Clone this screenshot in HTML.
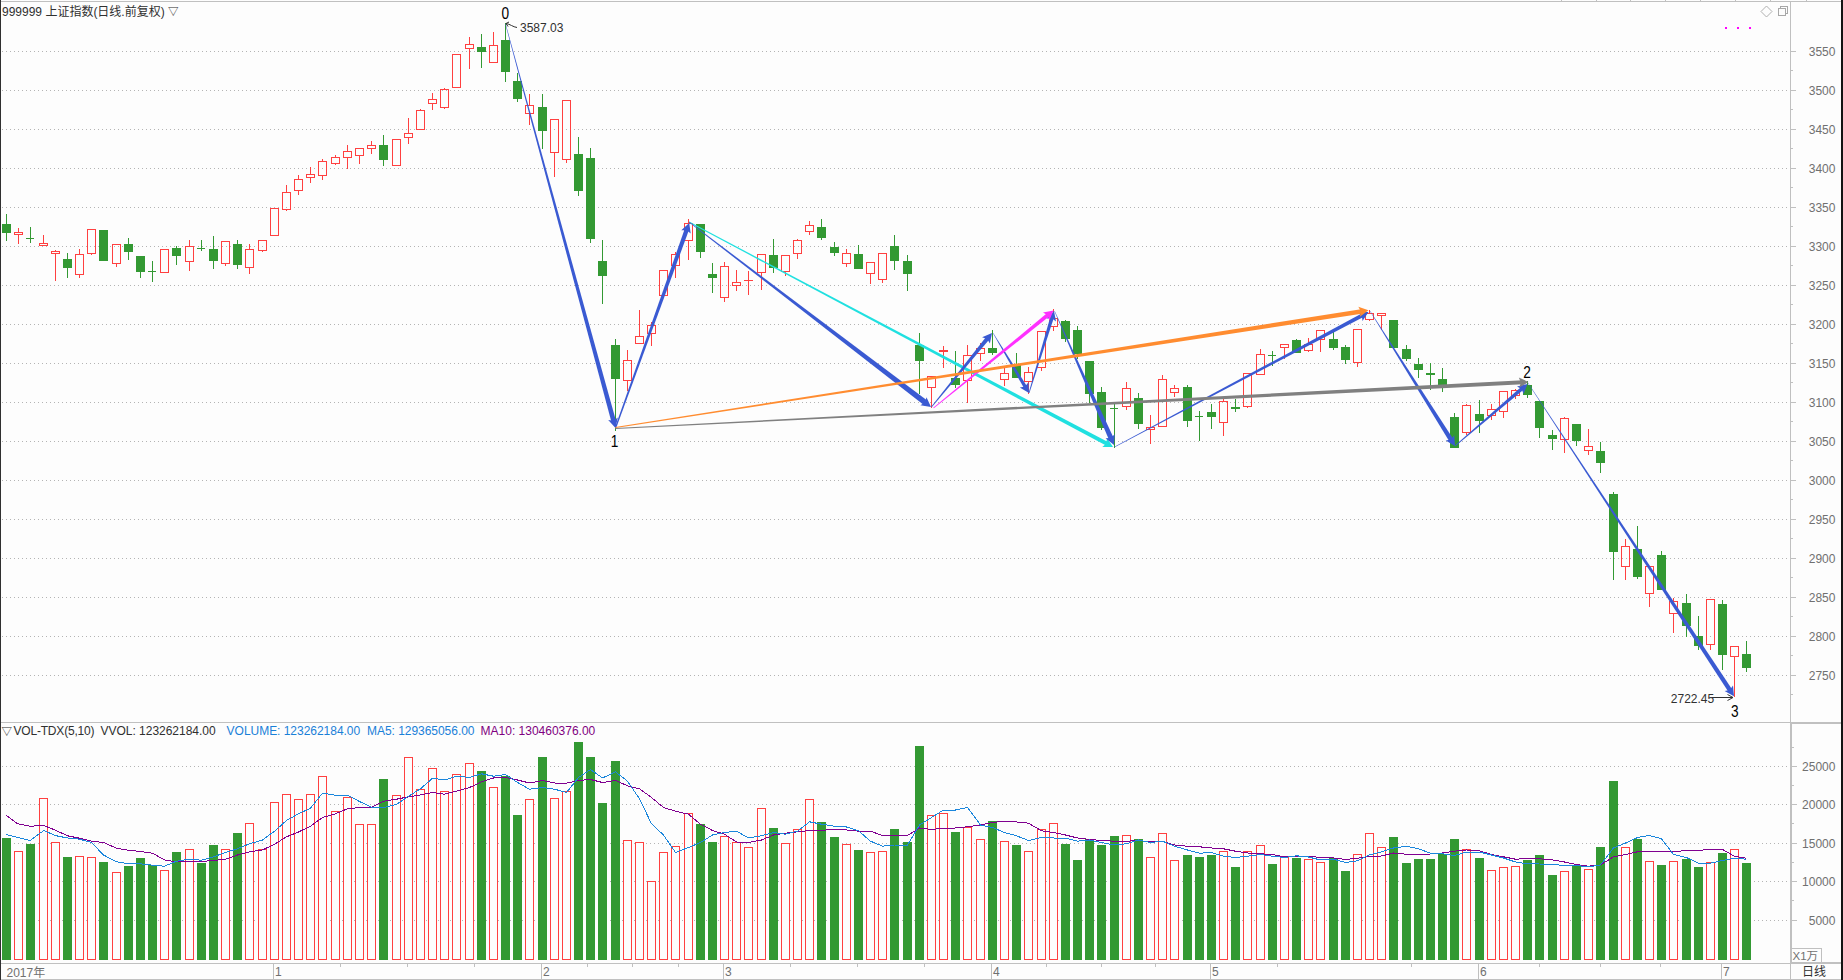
<!DOCTYPE html>
<html><head><meta charset="utf-8"><title>999999 上证指数</title>
<style>html,body{margin:0;padding:0;background:#fdfdfd;width:1843px;height:980px;overflow:hidden}</style>
</head><body>
<svg width="1843" height="980" viewBox="0 0 1843 980" style="position:absolute;left:0;top:0;display:block">
<rect width="1843" height="980" fill="#fdfdfd"/>
<g shape-rendering="crispEdges" stroke="#b4b4b4" stroke-width="1" stroke-dasharray="1 3">
<line x1="2" x2="1788" y1="51.5" y2="51.5"/>
<line x1="2" x2="1788" y1="90.5" y2="90.5"/>
<line x1="2" x2="1788" y1="129.5" y2="129.5"/>
<line x1="2" x2="1788" y1="168.5" y2="168.5"/>
<line x1="2" x2="1788" y1="207.5" y2="207.5"/>
<line x1="2" x2="1788" y1="246.5" y2="246.5"/>
<line x1="2" x2="1788" y1="285.5" y2="285.5"/>
<line x1="2" x2="1788" y1="324.5" y2="324.5"/>
<line x1="2" x2="1788" y1="363.5" y2="363.5"/>
<line x1="2" x2="1788" y1="402.5" y2="402.5"/>
<line x1="2" x2="1788" y1="441.5" y2="441.5"/>
<line x1="2" x2="1788" y1="480.5" y2="480.5"/>
<line x1="2" x2="1788" y1="519.5" y2="519.5"/>
<line x1="2" x2="1788" y1="558.5" y2="558.5"/>
<line x1="2" x2="1788" y1="597.5" y2="597.5"/>
<line x1="2" x2="1788" y1="636.5" y2="636.5"/>
<line x1="2" x2="1788" y1="675.5" y2="675.5"/>
<line x1="2" x2="1788" y1="766.5" y2="766.5"/>
<line x1="2" x2="1788" y1="804.5" y2="804.5"/>
<line x1="2" x2="1788" y1="843.5" y2="843.5"/>
<line x1="2" x2="1788" y1="881.5" y2="881.5"/>
<line x1="2" x2="1788" y1="920.5" y2="920.5"/>
</g>
<g shape-rendering="crispEdges">
<rect x="6" y="214" width="1" height="27" fill="#339933"/>
<rect x="2" y="224" width="9" height="9" fill="#339933"/>
<rect x="18" y="228" width="1" height="4" fill="#ff4040"/>
<rect x="18" y="235" width="1" height="9" fill="#ff4040"/>
<rect x="14.5" y="232.5" width="8" height="2" fill="none" stroke="#ff4040" stroke-width="1"/>
<rect x="30" y="227" width="1" height="16" fill="#339933"/>
<rect x="26" y="238" width="8" height="1" fill="#339933"/>
<rect x="43" y="235" width="1" height="8" fill="#ff4040"/>
<rect x="39.5" y="243.5" width="8" height="2" fill="none" stroke="#ff4040" stroke-width="1"/>
<rect x="55" y="250" width="1" height="1" fill="#ff4040"/>
<rect x="55" y="254" width="1" height="27" fill="#ff4040"/>
<rect x="51.5" y="251.5" width="8" height="2" fill="none" stroke="#ff4040" stroke-width="1"/>
<rect x="67" y="253" width="1" height="25" fill="#339933"/>
<rect x="63" y="259" width="9" height="9" fill="#339933"/>
<rect x="79" y="249" width="1" height="5" fill="#ff4040"/>
<rect x="79" y="275" width="1" height="3" fill="#ff4040"/>
<rect x="75.5" y="254.5" width="8" height="20" fill="none" stroke="#ff4040" stroke-width="1"/>
<rect x="91" y="254" width="1" height="1" fill="#ff4040"/>
<rect x="87.5" y="229.5" width="8" height="24" fill="none" stroke="#ff4040" stroke-width="1"/>
<rect x="103" y="230" width="1" height="31" fill="#339933"/>
<rect x="99" y="230" width="9" height="31" fill="#339933"/>
<rect x="116" y="264" width="1" height="3" fill="#ff4040"/>
<rect x="112.5" y="244.5" width="8" height="19" fill="none" stroke="#ff4040" stroke-width="1"/>
<rect x="128" y="238" width="1" height="22" fill="#339933"/>
<rect x="124" y="244" width="9" height="8" fill="#339933"/>
<rect x="140" y="256" width="1" height="22" fill="#339933"/>
<rect x="136" y="256" width="9" height="16" fill="#339933"/>
<rect x="152" y="261" width="1" height="21" fill="#339933"/>
<rect x="148" y="271" width="8" height="1" fill="#339933"/>
<rect x="160.5" y="249.5" width="8" height="23" fill="none" stroke="#ff4040" stroke-width="1"/>
<rect x="176" y="246" width="1" height="19" fill="#339933"/>
<rect x="172" y="248" width="9" height="8" fill="#339933"/>
<rect x="189" y="240" width="1" height="6" fill="#ff4040"/>
<rect x="189" y="262" width="1" height="9" fill="#ff4040"/>
<rect x="185.5" y="246.5" width="8" height="15" fill="none" stroke="#ff4040" stroke-width="1"/>
<rect x="201" y="240" width="1" height="11" fill="#339933"/>
<rect x="197" y="248" width="8" height="1" fill="#339933"/>
<rect x="213" y="236" width="1" height="33" fill="#339933"/>
<rect x="209" y="249" width="9" height="12" fill="#339933"/>
<rect x="225" y="264" width="1" height="2" fill="#ff4040"/>
<rect x="221.5" y="241.5" width="8" height="22" fill="none" stroke="#ff4040" stroke-width="1"/>
<rect x="237" y="240" width="1" height="29" fill="#339933"/>
<rect x="233" y="244" width="9" height="21" fill="#339933"/>
<rect x="249" y="244" width="1" height="5" fill="#ff4040"/>
<rect x="249" y="268" width="1" height="6" fill="#ff4040"/>
<rect x="245.5" y="249.5" width="8" height="18" fill="none" stroke="#ff4040" stroke-width="1"/>
<rect x="262" y="251" width="1" height="1" fill="#ff4040"/>
<rect x="258.5" y="240.5" width="8" height="10" fill="none" stroke="#ff4040" stroke-width="1"/>
<rect x="270.5" y="208.5" width="8" height="27" fill="none" stroke="#ff4040" stroke-width="1"/>
<rect x="286" y="185" width="1" height="7" fill="#ff4040"/>
<rect x="286" y="210" width="1" height="1" fill="#ff4040"/>
<rect x="282.5" y="192.5" width="8" height="17" fill="none" stroke="#ff4040" stroke-width="1"/>
<rect x="298" y="175" width="1" height="4" fill="#ff4040"/>
<rect x="298" y="191" width="1" height="4" fill="#ff4040"/>
<rect x="294.5" y="179.5" width="8" height="11" fill="none" stroke="#ff4040" stroke-width="1"/>
<rect x="310" y="167" width="1" height="7" fill="#ff4040"/>
<rect x="310" y="178" width="1" height="5" fill="#ff4040"/>
<rect x="306.5" y="174.5" width="8" height="3" fill="none" stroke="#ff4040" stroke-width="1"/>
<rect x="322" y="159" width="1" height="2" fill="#ff4040"/>
<rect x="322" y="176" width="1" height="4" fill="#ff4040"/>
<rect x="318.5" y="161.5" width="8" height="14" fill="none" stroke="#ff4040" stroke-width="1"/>
<rect x="335" y="155" width="1" height="2" fill="#ff4040"/>
<rect x="335" y="164" width="1" height="1" fill="#ff4040"/>
<rect x="331.5" y="157.5" width="8" height="6" fill="none" stroke="#ff4040" stroke-width="1"/>
<rect x="347" y="145" width="1" height="6" fill="#ff4040"/>
<rect x="347" y="158" width="1" height="11" fill="#ff4040"/>
<rect x="343.5" y="151.5" width="8" height="6" fill="none" stroke="#ff4040" stroke-width="1"/>
<rect x="359" y="156" width="1" height="8" fill="#ff4040"/>
<rect x="355.5" y="148.5" width="8" height="7" fill="none" stroke="#ff4040" stroke-width="1"/>
<rect x="371" y="141" width="1" height="4" fill="#ff4040"/>
<rect x="371" y="149" width="1" height="5" fill="#ff4040"/>
<rect x="367.5" y="145.5" width="8" height="3" fill="none" stroke="#ff4040" stroke-width="1"/>
<rect x="383" y="135" width="1" height="31" fill="#339933"/>
<rect x="379" y="145" width="9" height="15" fill="#339933"/>
<rect x="392.5" y="139.5" width="8" height="26" fill="none" stroke="#ff4040" stroke-width="1"/>
<rect x="408" y="118" width="1" height="15" fill="#ff4040"/>
<rect x="408" y="138" width="1" height="6" fill="#ff4040"/>
<rect x="404.5" y="133.5" width="8" height="4" fill="none" stroke="#ff4040" stroke-width="1"/>
<rect x="420" y="109" width="1" height="1" fill="#ff4040"/>
<rect x="416.5" y="110.5" width="8" height="19" fill="none" stroke="#ff4040" stroke-width="1"/>
<rect x="432" y="93" width="1" height="6" fill="#ff4040"/>
<rect x="432" y="104" width="1" height="6" fill="#ff4040"/>
<rect x="428.5" y="99.5" width="8" height="4" fill="none" stroke="#ff4040" stroke-width="1"/>
<rect x="444" y="88" width="1" height="1" fill="#ff4040"/>
<rect x="444" y="108" width="1" height="1" fill="#ff4040"/>
<rect x="440.5" y="89.5" width="8" height="18" fill="none" stroke="#ff4040" stroke-width="1"/>
<rect x="452.5" y="54.5" width="8" height="33" fill="none" stroke="#ff4040" stroke-width="1"/>
<rect x="469" y="37" width="1" height="7" fill="#ff4040"/>
<rect x="469" y="49" width="1" height="20" fill="#ff4040"/>
<rect x="465.5" y="44.5" width="8" height="4" fill="none" stroke="#ff4040" stroke-width="1"/>
<rect x="481" y="34" width="1" height="34" fill="#339933"/>
<rect x="477" y="47" width="9" height="5" fill="#339933"/>
<rect x="493" y="32" width="1" height="13" fill="#ff4040"/>
<rect x="489.5" y="45.5" width="8" height="17" fill="none" stroke="#ff4040" stroke-width="1"/>
<rect x="505" y="23" width="1" height="59" fill="#339933"/>
<rect x="501" y="40" width="9" height="32" fill="#339933"/>
<rect x="517" y="73" width="1" height="29" fill="#339933"/>
<rect x="513" y="81" width="9" height="18" fill="#339933"/>
<rect x="529" y="94" width="1" height="11" fill="#ff4040"/>
<rect x="529" y="114" width="1" height="11" fill="#ff4040"/>
<rect x="525.5" y="105.5" width="8" height="8" fill="none" stroke="#ff4040" stroke-width="1"/>
<rect x="542" y="94" width="1" height="55" fill="#339933"/>
<rect x="538" y="107" width="9" height="24" fill="#339933"/>
<rect x="554" y="153" width="1" height="24" fill="#ff4040"/>
<rect x="550.5" y="119.5" width="8" height="33" fill="none" stroke="#ff4040" stroke-width="1"/>
<rect x="566" y="160" width="1" height="3" fill="#ff4040"/>
<rect x="562.5" y="100.5" width="8" height="59" fill="none" stroke="#ff4040" stroke-width="1"/>
<rect x="578" y="137" width="1" height="59" fill="#339933"/>
<rect x="574" y="154" width="9" height="37" fill="#339933"/>
<rect x="590" y="148" width="1" height="95" fill="#339933"/>
<rect x="586" y="158" width="9" height="81" fill="#339933"/>
<rect x="602" y="240" width="1" height="64" fill="#339933"/>
<rect x="598" y="261" width="9" height="15" fill="#339933"/>
<rect x="615" y="339" width="1" height="92" fill="#339933"/>
<rect x="611" y="345" width="9" height="34" fill="#339933"/>
<rect x="627" y="350" width="1" height="10" fill="#ff4040"/>
<rect x="627" y="381" width="1" height="10" fill="#ff4040"/>
<rect x="623.5" y="360.5" width="8" height="20" fill="none" stroke="#ff4040" stroke-width="1"/>
<rect x="639" y="310" width="1" height="26" fill="#ff4040"/>
<rect x="635.5" y="336.5" width="8" height="7" fill="none" stroke="#ff4040" stroke-width="1"/>
<rect x="651" y="322" width="1" height="3" fill="#ff4040"/>
<rect x="651" y="334" width="1" height="12" fill="#ff4040"/>
<rect x="647.5" y="325.5" width="8" height="8" fill="none" stroke="#ff4040" stroke-width="1"/>
<rect x="659.5" y="270.5" width="8" height="25" fill="none" stroke="#ff4040" stroke-width="1"/>
<rect x="675" y="252" width="1" height="2" fill="#ff4040"/>
<rect x="675" y="266" width="1" height="12" fill="#ff4040"/>
<rect x="671.5" y="254.5" width="8" height="11" fill="none" stroke="#ff4040" stroke-width="1"/>
<rect x="688" y="219" width="1" height="4" fill="#ff4040"/>
<rect x="688" y="241" width="1" height="19" fill="#ff4040"/>
<rect x="684.5" y="223.5" width="8" height="17" fill="none" stroke="#ff4040" stroke-width="1"/>
<rect x="700" y="224" width="1" height="34" fill="#339933"/>
<rect x="696" y="224" width="9" height="28" fill="#339933"/>
<rect x="712" y="263" width="1" height="30" fill="#339933"/>
<rect x="708" y="274" width="9" height="4" fill="#339933"/>
<rect x="724" y="262" width="1" height="4" fill="#ff4040"/>
<rect x="724" y="298" width="1" height="4" fill="#ff4040"/>
<rect x="720.5" y="266.5" width="8" height="31" fill="none" stroke="#ff4040" stroke-width="1"/>
<rect x="736" y="270" width="1" height="12" fill="#ff4040"/>
<rect x="736" y="286" width="1" height="5" fill="#ff4040"/>
<rect x="732.5" y="282.5" width="8" height="3" fill="none" stroke="#ff4040" stroke-width="1"/>
<rect x="748" y="271" width="1" height="9" fill="#ff4040"/>
<rect x="748" y="281" width="1" height="14" fill="#ff4040"/>
<rect x="744" y="280" width="9" height="1" fill="#ff4040"/>
<rect x="761" y="273" width="1" height="17" fill="#ff4040"/>
<rect x="757.5" y="254.5" width="8" height="18" fill="none" stroke="#ff4040" stroke-width="1"/>
<rect x="773" y="239" width="1" height="34" fill="#339933"/>
<rect x="769" y="255" width="9" height="13" fill="#339933"/>
<rect x="785" y="272" width="1" height="4" fill="#ff4040"/>
<rect x="781.5" y="255.5" width="8" height="16" fill="none" stroke="#ff4040" stroke-width="1"/>
<rect x="797" y="239" width="1" height="1" fill="#ff4040"/>
<rect x="797" y="254" width="1" height="5" fill="#ff4040"/>
<rect x="793.5" y="240.5" width="8" height="13" fill="none" stroke="#ff4040" stroke-width="1"/>
<rect x="809" y="221" width="1" height="4" fill="#ff4040"/>
<rect x="809" y="232" width="1" height="3" fill="#ff4040"/>
<rect x="805.5" y="225.5" width="8" height="6" fill="none" stroke="#ff4040" stroke-width="1"/>
<rect x="821" y="219" width="1" height="21" fill="#339933"/>
<rect x="817" y="227" width="9" height="11" fill="#339933"/>
<rect x="834" y="242" width="1" height="14" fill="#339933"/>
<rect x="830" y="247" width="9" height="6" fill="#339933"/>
<rect x="846" y="249" width="1" height="4" fill="#ff4040"/>
<rect x="846" y="264" width="1" height="3" fill="#ff4040"/>
<rect x="842.5" y="253.5" width="8" height="10" fill="none" stroke="#ff4040" stroke-width="1"/>
<rect x="858" y="245" width="1" height="24" fill="#339933"/>
<rect x="854" y="254" width="9" height="15" fill="#339933"/>
<rect x="870" y="274" width="1" height="10" fill="#ff4040"/>
<rect x="866.5" y="262.5" width="8" height="11" fill="none" stroke="#ff4040" stroke-width="1"/>
<rect x="882" y="280" width="1" height="3" fill="#ff4040"/>
<rect x="878.5" y="253.5" width="8" height="26" fill="none" stroke="#ff4040" stroke-width="1"/>
<rect x="894" y="235" width="1" height="35" fill="#339933"/>
<rect x="890" y="246" width="9" height="15" fill="#339933"/>
<rect x="907" y="255" width="1" height="36" fill="#339933"/>
<rect x="903" y="261" width="9" height="13" fill="#339933"/>
<rect x="919" y="333" width="1" height="61" fill="#339933"/>
<rect x="915" y="345" width="9" height="16" fill="#339933"/>
<rect x="931" y="388" width="1" height="20" fill="#ff4040"/>
<rect x="927.5" y="376.5" width="8" height="11" fill="none" stroke="#ff4040" stroke-width="1"/>
<rect x="943" y="346" width="1" height="4" fill="#ff4040"/>
<rect x="943" y="352" width="1" height="16" fill="#ff4040"/>
<rect x="939" y="350" width="9" height="2" fill="#ff4040"/>
<rect x="955" y="351" width="1" height="37" fill="#339933"/>
<rect x="951" y="378" width="9" height="7" fill="#339933"/>
<rect x="967" y="345" width="1" height="10" fill="#ff4040"/>
<rect x="967" y="381" width="1" height="22" fill="#ff4040"/>
<rect x="963.5" y="355.5" width="8" height="25" fill="none" stroke="#ff4040" stroke-width="1"/>
<rect x="980" y="343" width="1" height="5" fill="#ff4040"/>
<rect x="980" y="354" width="1" height="7" fill="#ff4040"/>
<rect x="976.5" y="348.5" width="8" height="5" fill="none" stroke="#ff4040" stroke-width="1"/>
<rect x="992" y="330" width="1" height="25" fill="#339933"/>
<rect x="988" y="348" width="9" height="5" fill="#339933"/>
<rect x="1004" y="368" width="1" height="5" fill="#ff4040"/>
<rect x="1004" y="380" width="1" height="6" fill="#ff4040"/>
<rect x="1000.5" y="373.5" width="8" height="6" fill="none" stroke="#ff4040" stroke-width="1"/>
<rect x="1016" y="353" width="1" height="25" fill="#339933"/>
<rect x="1012" y="364" width="9" height="14" fill="#339933"/>
<rect x="1028" y="367" width="1" height="5" fill="#ff4040"/>
<rect x="1028" y="382" width="1" height="12" fill="#ff4040"/>
<rect x="1024.5" y="372.5" width="8" height="9" fill="none" stroke="#ff4040" stroke-width="1"/>
<rect x="1041" y="368" width="1" height="3" fill="#ff4040"/>
<rect x="1037.5" y="331.5" width="8" height="36" fill="none" stroke="#ff4040" stroke-width="1"/>
<rect x="1053" y="309" width="1" height="9" fill="#ff4040"/>
<rect x="1053" y="327" width="1" height="4" fill="#ff4040"/>
<rect x="1049.5" y="318.5" width="8" height="8" fill="none" stroke="#ff4040" stroke-width="1"/>
<rect x="1065" y="320" width="1" height="22" fill="#339933"/>
<rect x="1061" y="321" width="9" height="18" fill="#339933"/>
<rect x="1077" y="326" width="1" height="33" fill="#339933"/>
<rect x="1073" y="330" width="9" height="24" fill="#339933"/>
<rect x="1089" y="361" width="1" height="42" fill="#339933"/>
<rect x="1085" y="361" width="9" height="33" fill="#339933"/>
<rect x="1101" y="387" width="1" height="43" fill="#339933"/>
<rect x="1097" y="392" width="9" height="36" fill="#339933"/>
<rect x="1114" y="404" width="1" height="44" fill="#339933"/>
<rect x="1110" y="408" width="8" height="1" fill="#339933"/>
<rect x="1126" y="382" width="1" height="6" fill="#ff4040"/>
<rect x="1126" y="407" width="1" height="3" fill="#ff4040"/>
<rect x="1122.5" y="388.5" width="8" height="18" fill="none" stroke="#ff4040" stroke-width="1"/>
<rect x="1138" y="393" width="1" height="36" fill="#339933"/>
<rect x="1134" y="398" width="9" height="26" fill="#339933"/>
<rect x="1150" y="415" width="1" height="12" fill="#ff4040"/>
<rect x="1150" y="430" width="1" height="14" fill="#ff4040"/>
<rect x="1146.5" y="427.5" width="8" height="2" fill="none" stroke="#ff4040" stroke-width="1"/>
<rect x="1162" y="375" width="1" height="4" fill="#ff4040"/>
<rect x="1158.5" y="379.5" width="8" height="47" fill="none" stroke="#ff4040" stroke-width="1"/>
<rect x="1174" y="385" width="1" height="3" fill="#ff4040"/>
<rect x="1174" y="393" width="1" height="4" fill="#ff4040"/>
<rect x="1170.5" y="388.5" width="8" height="4" fill="none" stroke="#ff4040" stroke-width="1"/>
<rect x="1187" y="385" width="1" height="42" fill="#339933"/>
<rect x="1183" y="387" width="9" height="34" fill="#339933"/>
<rect x="1199" y="411" width="1" height="30" fill="#339933"/>
<rect x="1195" y="416" width="8" height="1" fill="#339933"/>
<rect x="1211" y="404" width="1" height="25" fill="#339933"/>
<rect x="1207" y="412" width="9" height="5" fill="#339933"/>
<rect x="1223" y="399" width="1" height="2" fill="#ff4040"/>
<rect x="1223" y="423" width="1" height="13" fill="#ff4040"/>
<rect x="1219.5" y="401.5" width="8" height="21" fill="none" stroke="#ff4040" stroke-width="1"/>
<rect x="1235" y="399" width="1" height="13" fill="#339933"/>
<rect x="1231" y="407" width="9" height="2" fill="#339933"/>
<rect x="1247" y="407" width="1" height="1" fill="#ff4040"/>
<rect x="1243.5" y="373.5" width="8" height="33" fill="none" stroke="#ff4040" stroke-width="1"/>
<rect x="1260" y="349" width="1" height="5" fill="#ff4040"/>
<rect x="1256.5" y="354.5" width="8" height="20" fill="none" stroke="#ff4040" stroke-width="1"/>
<rect x="1272" y="351" width="1" height="15" fill="#339933"/>
<rect x="1268" y="355" width="8" height="1" fill="#339933"/>
<rect x="1284" y="348" width="1" height="11" fill="#ff4040"/>
<rect x="1280.5" y="344.5" width="8" height="3" fill="none" stroke="#ff4040" stroke-width="1"/>
<rect x="1296" y="339" width="1" height="14" fill="#339933"/>
<rect x="1292" y="340" width="9" height="13" fill="#339933"/>
<rect x="1308" y="338" width="1" height="6" fill="#ff4040"/>
<rect x="1308" y="351" width="1" height="1" fill="#ff4040"/>
<rect x="1304.5" y="344.5" width="8" height="6" fill="none" stroke="#ff4040" stroke-width="1"/>
<rect x="1320" y="340" width="1" height="12" fill="#ff4040"/>
<rect x="1316.5" y="330.5" width="8" height="9" fill="none" stroke="#ff4040" stroke-width="1"/>
<rect x="1333" y="331" width="1" height="19" fill="#339933"/>
<rect x="1329" y="339" width="9" height="9" fill="#339933"/>
<rect x="1345" y="345" width="1" height="19" fill="#339933"/>
<rect x="1341" y="347" width="9" height="13" fill="#339933"/>
<rect x="1357" y="363" width="1" height="4" fill="#ff4040"/>
<rect x="1353.5" y="329.5" width="8" height="33" fill="none" stroke="#ff4040" stroke-width="1"/>
<rect x="1369" y="310" width="1" height="3" fill="#ff4040"/>
<rect x="1369" y="320" width="1" height="1" fill="#ff4040"/>
<rect x="1365.5" y="313.5" width="8" height="6" fill="none" stroke="#ff4040" stroke-width="1"/>
<rect x="1381" y="316" width="1" height="14" fill="#ff4040"/>
<rect x="1377.5" y="313.5" width="8" height="2" fill="none" stroke="#ff4040" stroke-width="1"/>
<rect x="1393" y="320" width="1" height="28" fill="#339933"/>
<rect x="1389" y="320" width="9" height="28" fill="#339933"/>
<rect x="1406" y="345" width="1" height="16" fill="#339933"/>
<rect x="1402" y="349" width="9" height="10" fill="#339933"/>
<rect x="1418" y="358" width="1" height="20" fill="#339933"/>
<rect x="1414" y="364" width="9" height="6" fill="#339933"/>
<rect x="1430" y="363" width="1" height="27" fill="#339933"/>
<rect x="1426" y="373" width="9" height="2" fill="#339933"/>
<rect x="1442" y="368" width="1" height="24" fill="#339933"/>
<rect x="1438" y="379" width="9" height="6" fill="#339933"/>
<rect x="1454" y="413" width="1" height="35" fill="#339933"/>
<rect x="1450" y="417" width="9" height="31" fill="#339933"/>
<rect x="1466" y="404" width="1" height="1" fill="#ff4040"/>
<rect x="1466" y="433" width="1" height="2" fill="#ff4040"/>
<rect x="1462.5" y="405.5" width="8" height="27" fill="none" stroke="#ff4040" stroke-width="1"/>
<rect x="1479" y="400" width="1" height="33" fill="#339933"/>
<rect x="1475" y="414" width="9" height="7" fill="#339933"/>
<rect x="1491" y="404" width="1" height="5" fill="#ff4040"/>
<rect x="1491" y="416" width="1" height="4" fill="#ff4040"/>
<rect x="1487.5" y="409.5" width="8" height="6" fill="none" stroke="#ff4040" stroke-width="1"/>
<rect x="1503" y="412" width="1" height="6" fill="#ff4040"/>
<rect x="1499.5" y="391.5" width="8" height="20" fill="none" stroke="#ff4040" stroke-width="1"/>
<rect x="1515" y="389" width="1" height="1" fill="#ff4040"/>
<rect x="1515" y="396" width="1" height="3" fill="#ff4040"/>
<rect x="1511.5" y="390.5" width="8" height="5" fill="none" stroke="#ff4040" stroke-width="1"/>
<rect x="1527" y="381" width="1" height="17" fill="#339933"/>
<rect x="1523" y="385" width="9" height="10" fill="#339933"/>
<rect x="1539" y="401" width="1" height="37" fill="#339933"/>
<rect x="1535" y="401" width="9" height="27" fill="#339933"/>
<rect x="1552" y="430" width="1" height="20" fill="#339933"/>
<rect x="1548" y="435" width="9" height="4" fill="#339933"/>
<rect x="1564" y="417" width="1" height="1" fill="#ff4040"/>
<rect x="1564" y="440" width="1" height="13" fill="#ff4040"/>
<rect x="1560.5" y="418.5" width="8" height="21" fill="none" stroke="#ff4040" stroke-width="1"/>
<rect x="1576" y="424" width="1" height="22" fill="#339933"/>
<rect x="1572" y="424" width="9" height="17" fill="#339933"/>
<rect x="1588" y="429" width="1" height="17" fill="#ff4040"/>
<rect x="1588" y="451" width="1" height="4" fill="#ff4040"/>
<rect x="1584.5" y="446.5" width="8" height="4" fill="none" stroke="#ff4040" stroke-width="1"/>
<rect x="1600" y="442" width="1" height="31" fill="#339933"/>
<rect x="1596" y="451" width="9" height="12" fill="#339933"/>
<rect x="1613" y="492" width="1" height="88" fill="#339933"/>
<rect x="1609" y="494" width="9" height="58" fill="#339933"/>
<rect x="1625" y="539" width="1" height="7" fill="#ff4040"/>
<rect x="1625" y="567" width="1" height="13" fill="#ff4040"/>
<rect x="1621.5" y="546.5" width="8" height="20" fill="none" stroke="#ff4040" stroke-width="1"/>
<rect x="1637" y="526" width="1" height="53" fill="#339933"/>
<rect x="1633" y="549" width="9" height="28" fill="#339933"/>
<rect x="1649" y="594" width="1" height="13" fill="#ff4040"/>
<rect x="1645.5" y="566.5" width="8" height="27" fill="none" stroke="#ff4040" stroke-width="1"/>
<rect x="1661" y="551" width="1" height="39" fill="#339933"/>
<rect x="1657" y="555" width="9" height="35" fill="#339933"/>
<rect x="1673" y="598" width="1" height="3" fill="#ff4040"/>
<rect x="1673" y="614" width="1" height="19" fill="#ff4040"/>
<rect x="1669.5" y="601.5" width="8" height="12" fill="none" stroke="#ff4040" stroke-width="1"/>
<rect x="1686" y="594" width="1" height="43" fill="#339933"/>
<rect x="1682" y="603" width="9" height="23" fill="#339933"/>
<rect x="1698" y="616" width="1" height="34" fill="#339933"/>
<rect x="1694" y="636" width="9" height="10" fill="#339933"/>
<rect x="1710" y="645" width="1" height="5" fill="#ff4040"/>
<rect x="1706.5" y="599.5" width="8" height="45" fill="none" stroke="#ff4040" stroke-width="1"/>
<rect x="1722" y="600" width="1" height="70" fill="#339933"/>
<rect x="1718" y="604" width="9" height="51" fill="#339933"/>
<rect x="1734" y="657" width="1" height="40" fill="#ff4040"/>
<rect x="1730.5" y="646.5" width="8" height="10" fill="none" stroke="#ff4040" stroke-width="1"/>
<rect x="1746" y="641" width="1" height="31" fill="#339933"/>
<rect x="1742" y="654" width="9" height="14" fill="#339933"/>
</g>
<g shape-rendering="crispEdges">
<rect x="2" y="838" width="9" height="122" fill="#339933"/>
<rect x="14.5" y="851.5" width="8" height="108" fill="#fdfdfd" stroke="#ff4040" stroke-width="1"/>
<rect x="26" y="844" width="9" height="116" fill="#339933"/>
<rect x="39.5" y="798.5" width="8" height="161" fill="#fdfdfd" stroke="#ff4040" stroke-width="1"/>
<rect x="51.5" y="842.5" width="8" height="117" fill="#fdfdfd" stroke="#ff4040" stroke-width="1"/>
<rect x="63" y="857" width="9" height="103" fill="#339933"/>
<rect x="75.5" y="856.5" width="8" height="103" fill="#fdfdfd" stroke="#ff4040" stroke-width="1"/>
<rect x="87.5" y="857.5" width="8" height="102" fill="#fdfdfd" stroke="#ff4040" stroke-width="1"/>
<rect x="99" y="862" width="9" height="98" fill="#339933"/>
<rect x="112.5" y="872.5" width="8" height="87" fill="#fdfdfd" stroke="#ff4040" stroke-width="1"/>
<rect x="124" y="866" width="9" height="94" fill="#339933"/>
<rect x="136" y="858" width="9" height="102" fill="#339933"/>
<rect x="148" y="865" width="9" height="95" fill="#339933"/>
<rect x="160.5" y="870.5" width="8" height="89" fill="#fdfdfd" stroke="#ff4040" stroke-width="1"/>
<rect x="172" y="852" width="9" height="108" fill="#339933"/>
<rect x="185.5" y="849.5" width="8" height="110" fill="#fdfdfd" stroke="#ff4040" stroke-width="1"/>
<rect x="197" y="863" width="9" height="97" fill="#339933"/>
<rect x="209" y="845" width="9" height="115" fill="#339933"/>
<rect x="221.5" y="849.5" width="8" height="110" fill="#fdfdfd" stroke="#ff4040" stroke-width="1"/>
<rect x="233" y="833" width="9" height="127" fill="#339933"/>
<rect x="245.5" y="823.5" width="8" height="136" fill="#fdfdfd" stroke="#ff4040" stroke-width="1"/>
<rect x="258.5" y="849.5" width="8" height="110" fill="#fdfdfd" stroke="#ff4040" stroke-width="1"/>
<rect x="270.5" y="802.5" width="8" height="157" fill="#fdfdfd" stroke="#ff4040" stroke-width="1"/>
<rect x="282.5" y="794.5" width="8" height="165" fill="#fdfdfd" stroke="#ff4040" stroke-width="1"/>
<rect x="294.5" y="799.5" width="8" height="160" fill="#fdfdfd" stroke="#ff4040" stroke-width="1"/>
<rect x="306.5" y="794.5" width="8" height="165" fill="#fdfdfd" stroke="#ff4040" stroke-width="1"/>
<rect x="318.5" y="776.5" width="8" height="183" fill="#fdfdfd" stroke="#ff4040" stroke-width="1"/>
<rect x="331.5" y="811.5" width="8" height="148" fill="#fdfdfd" stroke="#ff4040" stroke-width="1"/>
<rect x="343.5" y="797.5" width="8" height="162" fill="#fdfdfd" stroke="#ff4040" stroke-width="1"/>
<rect x="355.5" y="824.5" width="8" height="135" fill="#fdfdfd" stroke="#ff4040" stroke-width="1"/>
<rect x="367.5" y="824.5" width="8" height="135" fill="#fdfdfd" stroke="#ff4040" stroke-width="1"/>
<rect x="379" y="779" width="9" height="181" fill="#339933"/>
<rect x="392.5" y="795.5" width="8" height="164" fill="#fdfdfd" stroke="#ff4040" stroke-width="1"/>
<rect x="404.5" y="757.5" width="8" height="202" fill="#fdfdfd" stroke="#ff4040" stroke-width="1"/>
<rect x="416.5" y="789.5" width="8" height="170" fill="#fdfdfd" stroke="#ff4040" stroke-width="1"/>
<rect x="428.5" y="768.5" width="8" height="191" fill="#fdfdfd" stroke="#ff4040" stroke-width="1"/>
<rect x="440.5" y="791.5" width="8" height="168" fill="#fdfdfd" stroke="#ff4040" stroke-width="1"/>
<rect x="452.5" y="774.5" width="8" height="185" fill="#fdfdfd" stroke="#ff4040" stroke-width="1"/>
<rect x="465.5" y="763.5" width="8" height="196" fill="#fdfdfd" stroke="#ff4040" stroke-width="1"/>
<rect x="477" y="771" width="9" height="189" fill="#339933"/>
<rect x="489.5" y="787.5" width="8" height="172" fill="#fdfdfd" stroke="#ff4040" stroke-width="1"/>
<rect x="501" y="776" width="9" height="184" fill="#339933"/>
<rect x="513" y="815" width="9" height="145" fill="#339933"/>
<rect x="525.5" y="799.5" width="8" height="160" fill="#fdfdfd" stroke="#ff4040" stroke-width="1"/>
<rect x="538" y="757" width="9" height="203" fill="#339933"/>
<rect x="550.5" y="798.5" width="8" height="161" fill="#fdfdfd" stroke="#ff4040" stroke-width="1"/>
<rect x="562.5" y="791.5" width="8" height="168" fill="#fdfdfd" stroke="#ff4040" stroke-width="1"/>
<rect x="574" y="742" width="9" height="218" fill="#339933"/>
<rect x="586" y="757" width="9" height="203" fill="#339933"/>
<rect x="598" y="803" width="9" height="157" fill="#339933"/>
<rect x="611" y="761" width="9" height="199" fill="#339933"/>
<rect x="623.5" y="840.5" width="8" height="119" fill="#fdfdfd" stroke="#ff4040" stroke-width="1"/>
<rect x="635.5" y="842.5" width="8" height="117" fill="#fdfdfd" stroke="#ff4040" stroke-width="1"/>
<rect x="647.5" y="881.5" width="8" height="78" fill="#fdfdfd" stroke="#ff4040" stroke-width="1"/>
<rect x="659.5" y="852.5" width="8" height="107" fill="#fdfdfd" stroke="#ff4040" stroke-width="1"/>
<rect x="671.5" y="846.5" width="8" height="113" fill="#fdfdfd" stroke="#ff4040" stroke-width="1"/>
<rect x="684.5" y="813.5" width="8" height="146" fill="#fdfdfd" stroke="#ff4040" stroke-width="1"/>
<rect x="696" y="824" width="9" height="136" fill="#339933"/>
<rect x="708" y="842" width="9" height="118" fill="#339933"/>
<rect x="720.5" y="836.5" width="8" height="123" fill="#fdfdfd" stroke="#ff4040" stroke-width="1"/>
<rect x="732.5" y="842.5" width="8" height="117" fill="#fdfdfd" stroke="#ff4040" stroke-width="1"/>
<rect x="744.5" y="847.5" width="8" height="112" fill="#fdfdfd" stroke="#ff4040" stroke-width="1"/>
<rect x="757.5" y="808.5" width="8" height="151" fill="#fdfdfd" stroke="#ff4040" stroke-width="1"/>
<rect x="769" y="828" width="9" height="132" fill="#339933"/>
<rect x="781.5" y="843.5" width="8" height="116" fill="#fdfdfd" stroke="#ff4040" stroke-width="1"/>
<rect x="793.5" y="829.5" width="8" height="130" fill="#fdfdfd" stroke="#ff4040" stroke-width="1"/>
<rect x="805.5" y="799.5" width="8" height="160" fill="#fdfdfd" stroke="#ff4040" stroke-width="1"/>
<rect x="817" y="822" width="9" height="138" fill="#339933"/>
<rect x="830" y="837" width="9" height="123" fill="#339933"/>
<rect x="842.5" y="844.5" width="8" height="115" fill="#fdfdfd" stroke="#ff4040" stroke-width="1"/>
<rect x="854" y="850" width="9" height="110" fill="#339933"/>
<rect x="866.5" y="852.5" width="8" height="107" fill="#fdfdfd" stroke="#ff4040" stroke-width="1"/>
<rect x="878.5" y="851.5" width="8" height="108" fill="#fdfdfd" stroke="#ff4040" stroke-width="1"/>
<rect x="890" y="829" width="9" height="131" fill="#339933"/>
<rect x="903" y="842" width="9" height="118" fill="#339933"/>
<rect x="915" y="746" width="9" height="214" fill="#339933"/>
<rect x="927.5" y="815.5" width="8" height="144" fill="#fdfdfd" stroke="#ff4040" stroke-width="1"/>
<rect x="939.5" y="813.5" width="8" height="146" fill="#fdfdfd" stroke="#ff4040" stroke-width="1"/>
<rect x="951" y="832" width="9" height="128" fill="#339933"/>
<rect x="963.5" y="827.5" width="8" height="132" fill="#fdfdfd" stroke="#ff4040" stroke-width="1"/>
<rect x="976.5" y="839.5" width="8" height="120" fill="#fdfdfd" stroke="#ff4040" stroke-width="1"/>
<rect x="988" y="821" width="9" height="139" fill="#339933"/>
<rect x="1000.5" y="841.5" width="8" height="118" fill="#fdfdfd" stroke="#ff4040" stroke-width="1"/>
<rect x="1012" y="845" width="9" height="115" fill="#339933"/>
<rect x="1024.5" y="851.5" width="8" height="108" fill="#fdfdfd" stroke="#ff4040" stroke-width="1"/>
<rect x="1037.5" y="829.5" width="8" height="130" fill="#fdfdfd" stroke="#ff4040" stroke-width="1"/>
<rect x="1049.5" y="823.5" width="8" height="136" fill="#fdfdfd" stroke="#ff4040" stroke-width="1"/>
<rect x="1061" y="844" width="9" height="116" fill="#339933"/>
<rect x="1073" y="860" width="9" height="100" fill="#339933"/>
<rect x="1085" y="839" width="9" height="121" fill="#339933"/>
<rect x="1097" y="845" width="9" height="115" fill="#339933"/>
<rect x="1110" y="836" width="9" height="124" fill="#339933"/>
<rect x="1122.5" y="835.5" width="8" height="124" fill="#fdfdfd" stroke="#ff4040" stroke-width="1"/>
<rect x="1134" y="839" width="9" height="121" fill="#339933"/>
<rect x="1146.5" y="857.5" width="8" height="102" fill="#fdfdfd" stroke="#ff4040" stroke-width="1"/>
<rect x="1158.5" y="833.5" width="8" height="126" fill="#fdfdfd" stroke="#ff4040" stroke-width="1"/>
<rect x="1170.5" y="860.5" width="8" height="99" fill="#fdfdfd" stroke="#ff4040" stroke-width="1"/>
<rect x="1183" y="855" width="9" height="105" fill="#339933"/>
<rect x="1195" y="857" width="9" height="103" fill="#339933"/>
<rect x="1207" y="855" width="9" height="105" fill="#339933"/>
<rect x="1219.5" y="851.5" width="8" height="108" fill="#fdfdfd" stroke="#ff4040" stroke-width="1"/>
<rect x="1231" y="867" width="9" height="93" fill="#339933"/>
<rect x="1243.5" y="851.5" width="8" height="108" fill="#fdfdfd" stroke="#ff4040" stroke-width="1"/>
<rect x="1256.5" y="845.5" width="8" height="114" fill="#fdfdfd" stroke="#ff4040" stroke-width="1"/>
<rect x="1268" y="864" width="9" height="96" fill="#339933"/>
<rect x="1280.5" y="857.5" width="8" height="102" fill="#fdfdfd" stroke="#ff4040" stroke-width="1"/>
<rect x="1292" y="858" width="9" height="102" fill="#339933"/>
<rect x="1304.5" y="859.5" width="8" height="100" fill="#fdfdfd" stroke="#ff4040" stroke-width="1"/>
<rect x="1316.5" y="862.5" width="8" height="97" fill="#fdfdfd" stroke="#ff4040" stroke-width="1"/>
<rect x="1329" y="858" width="9" height="102" fill="#339933"/>
<rect x="1341" y="871" width="9" height="89" fill="#339933"/>
<rect x="1353.5" y="854.5" width="8" height="105" fill="#fdfdfd" stroke="#ff4040" stroke-width="1"/>
<rect x="1365.5" y="833.5" width="8" height="126" fill="#fdfdfd" stroke="#ff4040" stroke-width="1"/>
<rect x="1377.5" y="847.5" width="8" height="112" fill="#fdfdfd" stroke="#ff4040" stroke-width="1"/>
<rect x="1389" y="837" width="9" height="123" fill="#339933"/>
<rect x="1402" y="863" width="9" height="97" fill="#339933"/>
<rect x="1414" y="859" width="9" height="101" fill="#339933"/>
<rect x="1426" y="859" width="9" height="101" fill="#339933"/>
<rect x="1438" y="854" width="9" height="106" fill="#339933"/>
<rect x="1450" y="839" width="9" height="121" fill="#339933"/>
<rect x="1462.5" y="849.5" width="8" height="110" fill="#fdfdfd" stroke="#ff4040" stroke-width="1"/>
<rect x="1475" y="858" width="9" height="102" fill="#339933"/>
<rect x="1487.5" y="870.5" width="8" height="89" fill="#fdfdfd" stroke="#ff4040" stroke-width="1"/>
<rect x="1499.5" y="867.5" width="8" height="92" fill="#fdfdfd" stroke="#ff4040" stroke-width="1"/>
<rect x="1511.5" y="866.5" width="8" height="93" fill="#fdfdfd" stroke="#ff4040" stroke-width="1"/>
<rect x="1523" y="860" width="9" height="100" fill="#339933"/>
<rect x="1535" y="855" width="9" height="105" fill="#339933"/>
<rect x="1548" y="875" width="9" height="85" fill="#339933"/>
<rect x="1560.5" y="871.5" width="8" height="88" fill="#fdfdfd" stroke="#ff4040" stroke-width="1"/>
<rect x="1572" y="865" width="9" height="95" fill="#339933"/>
<rect x="1584.5" y="869.5" width="8" height="90" fill="#fdfdfd" stroke="#ff4040" stroke-width="1"/>
<rect x="1596" y="847" width="9" height="113" fill="#339933"/>
<rect x="1609" y="781" width="9" height="179" fill="#339933"/>
<rect x="1621.5" y="847.5" width="8" height="112" fill="#fdfdfd" stroke="#ff4040" stroke-width="1"/>
<rect x="1633" y="839" width="9" height="121" fill="#339933"/>
<rect x="1645.5" y="861.5" width="8" height="98" fill="#fdfdfd" stroke="#ff4040" stroke-width="1"/>
<rect x="1657" y="865" width="9" height="95" fill="#339933"/>
<rect x="1669.5" y="861.5" width="8" height="98" fill="#fdfdfd" stroke="#ff4040" stroke-width="1"/>
<rect x="1682" y="859" width="9" height="101" fill="#339933"/>
<rect x="1694" y="867" width="9" height="93" fill="#339933"/>
<rect x="1706.5" y="862.5" width="8" height="97" fill="#fdfdfd" stroke="#ff4040" stroke-width="1"/>
<rect x="1718" y="853" width="9" height="107" fill="#339933"/>
<rect x="1730.5" y="849.5" width="8" height="110" fill="#fdfdfd" stroke="#ff4040" stroke-width="1"/>
<rect x="1742" y="863" width="9" height="97" fill="#339933"/>
</g>
<polyline points="6.5,815.5 17.5,823.8 30.0,826.2 43.8,825.5 55.0,830.0 67.5,835.8 79.5,838.2 91.5,841.2 103.5,842.5 116.5,848.2 128.5,850.2 140.5,851.5 152.5,853.2 164.5,860.0 176.5,861.8 189.5,861.8 201.5,861.5 213.5,860.5 225.5,859.2 237.5,855.0 249.5,851.8 262.5,850.0 274.5,844.2 286.5,836.8 298.5,832.0 310.5,826.2 322.5,817.5 335.5,813.8 347.5,808.8 359.5,807.5 371.5,807.2 383.5,801.2 396.5,799.2 408.5,796.8 420.5,795.0 432.5,792.5 444.5,794.2 456.5,791.2 469.5,787.5 481.5,781.8 493.5,778.0 505.5,777.5 517.5,780.0 529.5,783.0 542.5,780.5 554.5,783.0 566.5,783.2 578.5,780.5 590.5,779.5 602.5,782.5 615.5,780.5 627.5,785.8 639.5,788.8 651.5,797.5 663.5,807.5 675.5,811.2 688.5,814.2 700.5,824.2 712.5,830.5 724.5,834.2 736.5,842.0 748.5,842.5 761.5,840.0 773.5,835.0 785.5,833.2 797.5,831.8 809.5,830.5 821.5,830.5 834.5,829.2 846.5,830.0 858.5,831.2 870.5,831.2 882.5,835.5 894.5,835.5 907.5,835.5 919.5,828.0 931.5,829.5 943.5,828.2 955.5,828.0 967.5,826.8 980.5,825.0 992.5,822.5 1004.5,821.2 1016.5,822.0 1028.5,823.2 1041.5,830.8 1053.5,832.5 1065.5,835.0 1077.5,838.0 1089.5,839.5 1101.5,840.5 1114.5,841.2 1126.5,841.2 1138.5,840.5 1150.5,841.8 1162.5,841.2 1174.5,845.0 1187.5,846.2 1199.5,846.8 1211.5,848.0 1223.5,848.8 1235.5,851.2 1247.5,853.0 1260.5,853.8 1272.5,854.5 1284.5,856.8 1296.5,856.2 1308.5,856.2 1320.5,857.5 1333.5,858.0 1345.5,859.5 1357.5,858.2 1369.5,856.5 1381.5,856.0 1393.5,853.0 1406.5,854.2 1418.5,854.2 1430.5,854.0 1442.5,853.0 1454.5,851.2 1466.5,850.0 1479.5,850.8 1491.5,854.5 1503.5,856.8 1515.5,859.2 1527.5,858.5 1539.5,858.8 1552.5,860.0 1564.5,862.0 1576.5,864.5 1588.5,866.2 1600.5,865.0 1613.5,856.8 1625.5,854.5 1637.5,851.8 1649.5,851.2 1661.5,852.0 1673.5,851.8 1686.5,850.5 1698.5,850.5 1710.5,849.2 1722.5,849.5 1734.5,856.2 1746.5,858.2" fill="none" stroke="#800090" stroke-width="1" stroke-linejoin="round" shape-rendering="crispEdges"/>
<polyline points="6.5,834.5 17.5,837.5 30.0,840.5 43.8,830.5 55.0,835.5 67.5,838.0 79.5,839.2 91.5,842.5 103.5,855.0 116.5,861.8 128.5,863.8 140.5,863.8 152.5,865.2 164.5,866.2 176.5,861.2 189.5,859.2 201.5,860.2 213.5,856.8 225.5,852.5 237.5,848.8 249.5,843.8 262.5,840.0 274.5,831.2 286.5,820.5 298.5,813.8 310.5,808.2 322.5,793.2 335.5,795.2 347.5,795.2 359.5,801.5 371.5,807.2 383.5,807.5 396.5,804.5 408.5,796.2 420.5,788.8 432.5,778.2 444.5,780.0 456.5,776.2 469.5,777.5 481.5,773.8 493.5,776.2 505.5,774.5 517.5,782.5 529.5,789.2 542.5,787.5 554.5,789.2 566.5,792.5 578.5,777.5 590.5,769.5 602.5,778.0 615.5,771.8 627.5,781.2 639.5,798.8 651.5,823.8 663.5,835.0 675.5,852.5 688.5,847.5 700.5,842.5 712.5,835.0 724.5,832.5 736.5,831.2 748.5,838.0 761.5,835.8 773.5,832.5 785.5,834.2 797.5,831.2 809.5,821.8 821.5,824.2 834.5,826.2 846.5,827.0 858.5,830.8 870.5,841.2 882.5,846.2 894.5,845.0 907.5,845.0 919.5,825.0 931.5,817.5 943.5,810.0 955.5,810.0 967.5,807.5 980.5,825.0 992.5,827.5 1004.5,832.5 1016.5,835.8 1028.5,840.5 1041.5,837.5 1053.5,838.0 1065.5,838.2 1077.5,841.2 1089.5,840.0 1101.5,842.5 1114.5,845.0 1126.5,843.8 1138.5,840.0 1150.5,842.5 1162.5,841.2 1174.5,846.2 1187.5,850.0 1199.5,853.2 1211.5,852.5 1223.5,856.2 1235.5,857.5 1247.5,856.2 1260.5,854.5 1272.5,856.2 1284.5,857.5 1296.5,855.8 1308.5,857.0 1320.5,860.0 1333.5,859.2 1345.5,862.5 1357.5,860.8 1369.5,854.8 1381.5,851.8 1393.5,848.0 1406.5,846.2 1418.5,848.8 1430.5,853.2 1442.5,853.8 1454.5,855.5 1466.5,852.0 1479.5,852.0 1491.5,855.0 1503.5,858.0 1515.5,862.0 1527.5,863.8 1539.5,864.0 1552.5,864.5 1564.5,865.5 1576.5,865.5 1588.5,867.0 1600.5,865.0 1613.5,848.0 1625.5,843.0 1637.5,837.5 1649.5,835.5 1661.5,838.8 1673.5,854.5 1686.5,857.5 1698.5,863.2 1710.5,863.2 1722.5,860.5 1734.5,858.2 1746.5,859.2" fill="none" stroke="#1a86dc" stroke-width="1" stroke-linejoin="round" shape-rendering="crispEdges"/>
<g>
<polygon points="688.8,222.4 1107.0,446.1 1108.9,442.6 689.2,221.6" fill="#20e0e0"/>
<polygon points="1113.0,447.0 1102.3,447.0 1106.3,443.4 1107.0,438.1" fill="#20e0e0"/>
<polygon points="505.3,24.1 611.7,423.1 616.3,421.9 505.7,23.9" fill="#3a5ad2"/>
<polygon points="615.5,428.0 608.2,420.1 613.5,420.7 617.8,417.5" fill="#3a5ad2"/>
<polygon points="616.1,428.2 689.3,229.1 685.2,227.6 614.9,427.8" fill="#3a5ad2"/>
<polygon points="689.2,223.0 690.7,233.6 686.6,230.2 681.3,230.2" fill="#3a5ad2"/>
<polygon points="688.8,222.3 924.8,405.8 928.2,401.3 689.2,221.7" fill="#3a5ad2"/>
<polygon points="931.0,407.0 920.4,405.2 925.0,402.4 926.5,397.3" fill="#3a5ad2"/>
<polygon points="931.8,407.3 989.9,338.7 986.8,336.1 931.2,406.7" fill="#3a5ad2"/>
<polygon points="992.0,333.0 989.9,343.5 987.2,338.9 982.1,337.2" fill="#3a5ad2"/>
<polygon points="992.8,333.1 1024.5,389.0 1027.6,387.2 993.2,332.9" fill="#3a5ad2"/>
<polygon points="1029.0,393.0 1019.8,387.4 1025.1,386.5 1028.4,382.3" fill="#3a5ad2"/>
<polygon points="1029.4,393.1 1054.1,317.0 1050.6,315.9 1028.6,392.9" fill="#3a5ad2"/>
<polygon points="1054.0,311.0 1056.0,321.5 1051.8,318.3 1046.4,318.6" fill="#3a5ad2"/>
<polygon points="933.8,408.3 1050.3,315.6 1047.8,312.5 933.2,407.7" fill="#ff30ff"/>
<polygon points="1053.5,310.5 1049.3,320.4 1047.6,315.3 1043.0,312.6" fill="#ff30ff"/>
<polygon points="1054.3,311.1 1109.4,440.8 1114.0,438.8 1054.7,310.9" fill="#3a5ad2"/>
<polygon points="1114.0,445.0 1105.6,438.3 1110.9,438.1 1114.7,434.3" fill="#3a5ad2"/>
<polygon points="1114.6,447.3 1364.4,316.4 1362.6,313.0 1114.4,446.7" fill="#3a5ad2"/>
<polygon points="1368.5,312.0 1362.5,320.9 1361.8,315.6 1357.8,312.0" fill="#3a5ad2"/>
<polygon points="1369.8,311.1 1450.0,442.4 1453.9,440.0 1370.2,310.9" fill="#3a5ad2"/>
<polygon points="1455.0,446.0 1445.7,440.6 1451.0,439.6 1454.2,435.3" fill="#3a5ad2"/>
<polygon points="1455.3,446.3 1524.4,389.1 1521.9,386.3 1454.7,445.7" fill="#3a5ad2"/>
<polygon points="1527.5,384.0 1523.5,394.0 1521.7,388.9 1517.0,386.4" fill="#3a5ad2"/>
<polygon points="1527.8,383.1 1729.0,692.7 1732.7,690.3 1528.2,382.9" fill="#3a5ad2"/>
<polygon points="1734.0,696.3 1724.6,691.1 1729.8,689.9 1733.0,685.6" fill="#3a5ad2"/>
<polygon points="615.6,428.0 1363.2,313.4 1362.5,308.9 615.4,427.0" fill="#ff8c30"/>
<polygon points="1368.5,310.3 1359.9,316.7 1361.0,311.5 1358.3,306.8" fill="#ff8c30"/>
<polygon points="615.5,429.0 1522.9,384.3 1522.7,380.3 615.5,428.0" fill="#808080"/>
<polygon points="1528.5,382.0 1519.3,387.5 1520.9,382.4 1518.8,377.5" fill="#808080"/>
</g>
<g shape-rendering="crispEdges">
<rect x="0" y="0" width="1" height="980" fill="#303030"/>
<rect x="1841" y="0" width="2" height="980" fill="#141414"/>
<rect x="1" y="1" width="1840" height="1" fill="#c0c0c0"/>
<rect x="1" y="722" width="1789" height="1" fill="#c0c0c0"/>
<rect x="1790" y="722" width="51" height="2" fill="#c0c0c0"/>
<rect x="1" y="963" width="1789" height="1" fill="#c0c0c0"/>
<rect x="1790" y="962" width="51" height="2" fill="#c0c0c0"/>
<rect x="1" y="979" width="1840" height="1" fill="#c0c0c0"/>
<rect x="1790" y="2" width="1" height="720" fill="#c0c0c0"/>
<rect x="1790" y="722" width="2" height="241" fill="#c0c0c0"/>
<rect x="1790" y="963" width="1" height="16" fill="#c0c0c0"/>
<rect x="1561" y="0" width="1" height="2" fill="#c0c0c0"/>
<rect x="1596" y="0" width="1" height="2" fill="#c0c0c0"/>
<rect x="1630" y="0" width="1" height="2" fill="#c0c0c0"/>
<rect x="1665" y="0" width="1" height="2" fill="#c0c0c0"/>
<rect x="1700" y="0" width="1" height="2" fill="#c0c0c0"/>
<rect x="1735" y="0" width="1" height="2" fill="#c0c0c0"/>
<rect x="1770" y="0" width="1" height="2" fill="#c0c0c0"/>
<rect x="1806" y="0" width="1" height="2" fill="#c0c0c0"/>
<rect x="1791" y="51" width="5" height="1" fill="#c0c0c0"/>
<rect x="1791" y="70" width="2" height="1" fill="#c0c0c0"/>
<rect x="1791" y="90" width="5" height="1" fill="#c0c0c0"/>
<rect x="1791" y="109" width="2" height="1" fill="#c0c0c0"/>
<rect x="1791" y="129" width="5" height="1" fill="#c0c0c0"/>
<rect x="1791" y="148" width="2" height="1" fill="#c0c0c0"/>
<rect x="1791" y="168" width="5" height="1" fill="#c0c0c0"/>
<rect x="1791" y="187" width="2" height="1" fill="#c0c0c0"/>
<rect x="1791" y="207" width="5" height="1" fill="#c0c0c0"/>
<rect x="1791" y="226" width="2" height="1" fill="#c0c0c0"/>
<rect x="1791" y="246" width="5" height="1" fill="#c0c0c0"/>
<rect x="1791" y="265" width="2" height="1" fill="#c0c0c0"/>
<rect x="1791" y="285" width="5" height="1" fill="#c0c0c0"/>
<rect x="1791" y="304" width="2" height="1" fill="#c0c0c0"/>
<rect x="1791" y="324" width="5" height="1" fill="#c0c0c0"/>
<rect x="1791" y="343" width="2" height="1" fill="#c0c0c0"/>
<rect x="1791" y="363" width="5" height="1" fill="#c0c0c0"/>
<rect x="1791" y="382" width="2" height="1" fill="#c0c0c0"/>
<rect x="1791" y="402" width="5" height="1" fill="#c0c0c0"/>
<rect x="1791" y="421" width="2" height="1" fill="#c0c0c0"/>
<rect x="1791" y="441" width="5" height="1" fill="#c0c0c0"/>
<rect x="1791" y="460" width="2" height="1" fill="#c0c0c0"/>
<rect x="1791" y="480" width="5" height="1" fill="#c0c0c0"/>
<rect x="1791" y="499" width="2" height="1" fill="#c0c0c0"/>
<rect x="1791" y="519" width="5" height="1" fill="#c0c0c0"/>
<rect x="1791" y="538" width="2" height="1" fill="#c0c0c0"/>
<rect x="1791" y="558" width="5" height="1" fill="#c0c0c0"/>
<rect x="1791" y="577" width="2" height="1" fill="#c0c0c0"/>
<rect x="1791" y="597" width="5" height="1" fill="#c0c0c0"/>
<rect x="1791" y="616" width="2" height="1" fill="#c0c0c0"/>
<rect x="1791" y="636" width="5" height="1" fill="#c0c0c0"/>
<rect x="1791" y="655" width="2" height="1" fill="#c0c0c0"/>
<rect x="1791" y="675" width="5" height="1" fill="#c0c0c0"/>
<rect x="1791" y="694" width="2" height="1" fill="#c0c0c0"/>
<rect x="1792" y="766" width="5" height="1" fill="#c0c0c0"/>
<rect x="1792" y="785" width="2" height="1" fill="#c0c0c0"/>
<rect x="1792" y="804" width="5" height="1" fill="#c0c0c0"/>
<rect x="1792" y="823" width="2" height="1" fill="#c0c0c0"/>
<rect x="1792" y="843" width="5" height="1" fill="#c0c0c0"/>
<rect x="1792" y="862" width="2" height="1" fill="#c0c0c0"/>
<rect x="1792" y="881" width="5" height="1" fill="#c0c0c0"/>
<rect x="1792" y="900" width="2" height="1" fill="#c0c0c0"/>
<rect x="1792" y="920" width="5" height="1" fill="#c0c0c0"/>
<rect x="1792" y="747" width="2" height="1" fill="#c0c0c0"/>
<rect x="273" y="964" width="1" height="15" fill="#c0c0c0"/>
<rect x="541" y="964" width="1" height="15" fill="#c0c0c0"/>
<rect x="723" y="964" width="1" height="15" fill="#c0c0c0"/>
<rect x="991" y="964" width="1" height="15" fill="#c0c0c0"/>
<rect x="1210" y="964" width="1" height="15" fill="#c0c0c0"/>
<rect x="1478" y="964" width="1" height="15" fill="#c0c0c0"/>
<rect x="1721" y="964" width="1" height="15" fill="#c0c0c0"/>
<rect x="474" y="964" width="1" height="3" fill="#c0c0c0"/>
<rect x="587" y="964" width="1" height="3" fill="#c0c0c0"/>
<rect x="632" y="964" width="1" height="3" fill="#c0c0c0"/>
<rect x="678" y="964" width="1" height="3" fill="#c0c0c0"/>
<rect x="790" y="964" width="1" height="3" fill="#c0c0c0"/>
<rect x="857" y="964" width="1" height="3" fill="#c0c0c0"/>
<rect x="924" y="964" width="1" height="3" fill="#c0c0c0"/>
<rect x="1046" y="964" width="1" height="3" fill="#c0c0c0"/>
<rect x="1101" y="964" width="1" height="3" fill="#c0c0c0"/>
<rect x="1155" y="964" width="1" height="3" fill="#c0c0c0"/>
<rect x="1277" y="964" width="1" height="3" fill="#c0c0c0"/>
<rect x="1411" y="964" width="1" height="3" fill="#c0c0c0"/>
<rect x="1539" y="964" width="1" height="3" fill="#c0c0c0"/>
<rect x="1600" y="964" width="1" height="3" fill="#c0c0c0"/>
<rect x="1660" y="964" width="1" height="3" fill="#c0c0c0"/>
<rect x="340" y="964" width="1" height="3" fill="#c0c0c0"/>
<rect x="407" y="964" width="1" height="3" fill="#c0c0c0"/>
<rect x="1792" y="948" width="30" height="1" fill="#c0c0c0"/>
<rect x="1821" y="948" width="1" height="14" fill="#c0c0c0"/>
</g>
<polygon points="1761,11.5 1766.5,6 1772,11.5 1766.5,17" fill="none" stroke="#b0b0b0" stroke-width="1"/>
<g shape-rendering="crispEdges" fill="none" stroke="#a8a8a8"><rect x="1780.5" y="6.5" width="7" height="7"/><rect x="1778.5" y="8.5" width="7" height="7" fill="#fdfdfd"/></g>
<rect x="1725" y="27" width="2" height="2" fill="#ff00ff" shape-rendering="crispEdges"/>
<rect x="1737" y="27" width="2" height="2" fill="#ff00ff" shape-rendering="crispEdges"/>
<rect x="1749" y="27" width="2" height="2" fill="#ff00ff" shape-rendering="crispEdges"/>
<text x="2" y="15.5" font-family="Liberation Sans, Noto Sans CJK SC, sans-serif" font-size="12" fill="#303030">999999 上证指数(日线.前复权) <tspan font-size="10.5" dy="-0.5">▽</tspan></text>
<text x="1835.5" y="55.5" font-family="Liberation Sans, Noto Sans CJK SC, sans-serif" font-size="12" fill="#707070" text-anchor="end" textLength="26.8" lengthAdjust="spacing">3550</text>
<text x="1835.5" y="94.5" font-family="Liberation Sans, Noto Sans CJK SC, sans-serif" font-size="12" fill="#707070" text-anchor="end" textLength="26.8" lengthAdjust="spacing">3500</text>
<text x="1835.5" y="133.5" font-family="Liberation Sans, Noto Sans CJK SC, sans-serif" font-size="12" fill="#707070" text-anchor="end" textLength="26.8" lengthAdjust="spacing">3450</text>
<text x="1835.5" y="172.5" font-family="Liberation Sans, Noto Sans CJK SC, sans-serif" font-size="12" fill="#707070" text-anchor="end" textLength="26.8" lengthAdjust="spacing">3400</text>
<text x="1835.5" y="211.5" font-family="Liberation Sans, Noto Sans CJK SC, sans-serif" font-size="12" fill="#707070" text-anchor="end" textLength="26.8" lengthAdjust="spacing">3350</text>
<text x="1835.5" y="250.5" font-family="Liberation Sans, Noto Sans CJK SC, sans-serif" font-size="12" fill="#707070" text-anchor="end" textLength="26.8" lengthAdjust="spacing">3300</text>
<text x="1835.5" y="289.5" font-family="Liberation Sans, Noto Sans CJK SC, sans-serif" font-size="12" fill="#707070" text-anchor="end" textLength="26.8" lengthAdjust="spacing">3250</text>
<text x="1835.5" y="328.5" font-family="Liberation Sans, Noto Sans CJK SC, sans-serif" font-size="12" fill="#707070" text-anchor="end" textLength="26.8" lengthAdjust="spacing">3200</text>
<text x="1835.5" y="367.5" font-family="Liberation Sans, Noto Sans CJK SC, sans-serif" font-size="12" fill="#707070" text-anchor="end" textLength="26.8" lengthAdjust="spacing">3150</text>
<text x="1835.5" y="406.5" font-family="Liberation Sans, Noto Sans CJK SC, sans-serif" font-size="12" fill="#707070" text-anchor="end" textLength="26.8" lengthAdjust="spacing">3100</text>
<text x="1835.5" y="445.5" font-family="Liberation Sans, Noto Sans CJK SC, sans-serif" font-size="12" fill="#707070" text-anchor="end" textLength="26.8" lengthAdjust="spacing">3050</text>
<text x="1835.5" y="484.5" font-family="Liberation Sans, Noto Sans CJK SC, sans-serif" font-size="12" fill="#707070" text-anchor="end" textLength="26.8" lengthAdjust="spacing">3000</text>
<text x="1835.5" y="523.5" font-family="Liberation Sans, Noto Sans CJK SC, sans-serif" font-size="12" fill="#707070" text-anchor="end" textLength="26.8" lengthAdjust="spacing">2950</text>
<text x="1835.5" y="562.5" font-family="Liberation Sans, Noto Sans CJK SC, sans-serif" font-size="12" fill="#707070" text-anchor="end" textLength="26.8" lengthAdjust="spacing">2900</text>
<text x="1835.5" y="601.5" font-family="Liberation Sans, Noto Sans CJK SC, sans-serif" font-size="12" fill="#707070" text-anchor="end" textLength="26.8" lengthAdjust="spacing">2850</text>
<text x="1835.5" y="640.5" font-family="Liberation Sans, Noto Sans CJK SC, sans-serif" font-size="12" fill="#707070" text-anchor="end" textLength="26.8" lengthAdjust="spacing">2800</text>
<text x="1835.5" y="679.5" font-family="Liberation Sans, Noto Sans CJK SC, sans-serif" font-size="12" fill="#707070" text-anchor="end" textLength="26.8" lengthAdjust="spacing">2750</text>
<text x="1835.5" y="770.5" font-family="Liberation Sans, Noto Sans CJK SC, sans-serif" font-size="12" fill="#707070" text-anchor="end" textLength="33.5" lengthAdjust="spacing">25000</text>
<text x="1835.5" y="808.5" font-family="Liberation Sans, Noto Sans CJK SC, sans-serif" font-size="12" fill="#707070" text-anchor="end" textLength="33.5" lengthAdjust="spacing">20000</text>
<text x="1835.5" y="847.5" font-family="Liberation Sans, Noto Sans CJK SC, sans-serif" font-size="12" fill="#707070" text-anchor="end" textLength="33.5" lengthAdjust="spacing">15000</text>
<text x="1835.5" y="885.5" font-family="Liberation Sans, Noto Sans CJK SC, sans-serif" font-size="12" fill="#707070" text-anchor="end" textLength="33.5" lengthAdjust="spacing">10000</text>
<text x="1835.5" y="924.5" font-family="Liberation Sans, Noto Sans CJK SC, sans-serif" font-size="12" fill="#707070" text-anchor="end" textLength="26.8" lengthAdjust="spacing">5000</text>
<text x="1.5" y="735" font-family="Liberation Sans, Noto Sans CJK SC, sans-serif" font-size="10.5" fill="#303030">▽</text>
<text x="13.5" y="735" font-family="Liberation Sans, Noto Sans CJK SC, sans-serif" font-size="12" fill="#303030" textLength="81" lengthAdjust="spacing">VOL-TDX(5,10)</text>
<text x="100.6" y="735" font-family="Liberation Sans, Noto Sans CJK SC, sans-serif" font-size="12" fill="#303030" textLength="115" lengthAdjust="spacing">VVOL: 123262184.00</text>
<text x="226.6" y="735" font-family="Liberation Sans, Noto Sans CJK SC, sans-serif" font-size="12" fill="#1a80d8" textLength="133.6" lengthAdjust="spacing">VOLUME: 123262184.00</text>
<text x="367" y="735" font-family="Liberation Sans, Noto Sans CJK SC, sans-serif" font-size="12" fill="#1a80d8" textLength="107.5" lengthAdjust="spacing">MA5: 129365056.00</text>
<text x="480.6" y="735" font-family="Liberation Sans, Noto Sans CJK SC, sans-serif" font-size="12" fill="#800080" textLength="114.7" lengthAdjust="spacing">MA10: 130460376.00</text>
<text x="6.5" y="976.5" font-family="Liberation Sans, Noto Sans CJK SC, sans-serif" font-size="12" fill="#707070">2017年</text>
<text x="275" y="976" font-family="Liberation Sans, Noto Sans CJK SC, sans-serif" font-size="12" fill="#707070">1</text>
<text x="543" y="976" font-family="Liberation Sans, Noto Sans CJK SC, sans-serif" font-size="12" fill="#707070">2</text>
<text x="725" y="976" font-family="Liberation Sans, Noto Sans CJK SC, sans-serif" font-size="12" fill="#707070">3</text>
<text x="993" y="976" font-family="Liberation Sans, Noto Sans CJK SC, sans-serif" font-size="12" fill="#707070">4</text>
<text x="1212" y="976" font-family="Liberation Sans, Noto Sans CJK SC, sans-serif" font-size="12" fill="#707070">5</text>
<text x="1480" y="976" font-family="Liberation Sans, Noto Sans CJK SC, sans-serif" font-size="12" fill="#707070">6</text>
<text x="1723" y="976" font-family="Liberation Sans, Noto Sans CJK SC, sans-serif" font-size="12" fill="#707070">7</text>
<text x="1792.5" y="959.5" font-family="Liberation Sans, Noto Sans CJK SC, sans-serif" font-size="11.5" fill="#707070">X1万</text>
<text x="1802" y="976" font-family="Liberation Sans, Noto Sans CJK SC, sans-serif" font-size="12" fill="#303030">日线</text>
<text x="505.3" y="19" font-family="Liberation Sans, Noto Sans CJK SC, sans-serif" font-size="15.8" fill="#000" text-anchor="middle" textLength="7.6" lengthAdjust="spacingAndGlyphs">0</text>
<text x="614.5" y="447" font-family="Liberation Sans, Noto Sans CJK SC, sans-serif" font-size="15.8" fill="#000" text-anchor="middle" textLength="7.6" lengthAdjust="spacingAndGlyphs">1</text>
<text x="1527" y="378" font-family="Liberation Sans, Noto Sans CJK SC, sans-serif" font-size="15.8" fill="#000" text-anchor="middle" textLength="7.6" lengthAdjust="spacingAndGlyphs">2</text>
<text x="1734.8" y="717" font-family="Liberation Sans, Noto Sans CJK SC, sans-serif" font-size="15.8" fill="#000" text-anchor="middle" textLength="7.6" lengthAdjust="spacingAndGlyphs">3</text>
<text x="520" y="32" font-family="Liberation Sans, Noto Sans CJK SC, sans-serif" font-size="12" fill="#303030" textLength="43.4" lengthAdjust="spacing">3587.03</text>
<text x="1670.8" y="703" font-family="Liberation Sans, Noto Sans CJK SC, sans-serif" font-size="12" fill="#303030" textLength="43.4" lengthAdjust="spacing">2722.45</text>
<path d="M1712,697.5 H1733 M1727.5,694.5 L1733,697.5 L1727.5,700.5" fill="none" stroke="#303030" stroke-width="1"/>
<path d="M517,27.5 C513,27 510,24 506,23.5 M509,22 L506,23.5 L508,26.5" fill="none" stroke="#303030" stroke-width="1"/>
</svg>
</body></html>
